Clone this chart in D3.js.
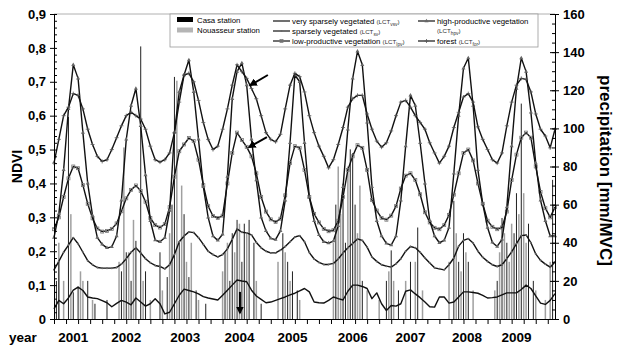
<!DOCTYPE html>
<html>
<head>
<meta charset="utf-8">
<script src="https://cdn.jsdelivr.net/npm/d3@7"></script>
<style>
  body { margin: 0; background: #fff; }
  svg { font-family: Arial, "Liberation Sans", sans-serif; }
</style>
</head>
<body>
<div id="chart"></div>
<script>
// 16-day MVC composite index (every second composite is plotted)
const periods = [0,2,4,6,8,10,12,14,16,18,20,22,24,26,28,30,32,34,36,38,40,42,44,46,48,50,52,54,56,58,60,62,64,66,68,70,72,74,76,78,80,82,84,86,88,90,92,94,96,98,100,102,104,106,108,110,112,114,116,118,120,122,124,126,128,130,132,134,136,138,140,142,144,146,148,150,152,154,156,158,160,162,164,166,168,170,172,174,176,178,180,182,184,186,188,190,192,194,196,198,200,202,204,206,208];

// NDVI per land cover type
const hpv = [0.24,0.31,0.44,0.62,0.75,0.71,0.55,0.40,0.305,0.24,
  0.22,0.21,0.213,0.245,0.35,0.53,0.63,0.68,0.57,0.425,
  0.29,0.233,0.228,0.24,0.32,0.55,0.67,0.72,0.764,0.67,
  0.53,0.39,0.30,0.245,0.232,0.25,0.42,0.65,0.73,0.755,
  0.69,0.53,0.41,0.30,0.26,0.238,0.234,0.26,0.35,0.52,
  0.72,0.70,0.52,0.36,0.29,0.248,0.228,0.224,0.23,0.275,
  0.39,0.56,0.71,0.79,0.75,0.58,0.39,0.29,0.245,0.223,
  0.218,0.245,0.35,0.51,0.66,0.63,0.52,0.40,0.29,0.245,
  0.225,0.232,0.27,0.43,0.60,0.74,0.77,0.63,0.44,0.34,
  0.27,0.226,0.214,0.235,0.33,0.51,0.68,0.77,0.73,0.61,
  0.46,0.35,0.29,0.245,0.245];
const forest = [0.46,0.53,0.60,0.625,0.665,0.66,0.62,0.56,0.515,0.48,
  0.465,0.47,0.50,0.535,0.57,0.60,0.61,0.60,0.59,0.56,
  0.51,0.47,0.463,0.47,0.49,0.55,0.64,0.72,0.725,0.70,
  0.645,0.58,0.53,0.50,0.51,0.56,0.62,0.69,0.75,0.73,
  0.71,0.68,0.65,0.60,0.55,0.53,0.523,0.545,0.62,0.69,
  0.725,0.715,0.67,0.60,0.55,0.51,0.48,0.446,0.47,0.515,
  0.565,0.625,0.65,0.66,0.66,0.605,0.56,0.525,0.507,0.52,
  0.555,0.60,0.64,0.645,0.625,0.60,0.58,0.56,0.52,0.49,
  0.46,0.48,0.51,0.565,0.61,0.655,0.665,0.64,0.567,0.53,
  0.50,0.47,0.46,0.49,0.57,0.64,0.69,0.71,0.707,0.67,
  0.605,0.56,0.54,0.505,0.56];
const lpv = [0.265,0.30,0.36,0.415,0.45,0.445,0.395,0.34,0.297,0.267,
  0.258,0.26,0.266,0.282,0.318,0.356,0.381,0.394,0.378,0.346,
  0.298,0.277,0.27,0.28,0.33,0.42,0.495,0.515,0.534,0.525,
  0.47,0.395,0.333,0.304,0.298,0.305,0.40,0.49,0.55,0.528,
  0.508,0.48,0.43,0.36,0.317,0.294,0.286,0.296,0.365,0.46,
  0.51,0.505,0.44,0.36,0.31,0.285,0.266,0.259,0.262,0.29,
  0.36,0.44,0.48,0.513,0.505,0.44,0.351,0.32,0.298,0.293,
  0.305,0.333,0.385,0.423,0.43,0.41,0.368,0.315,0.285,0.269,
  0.265,0.277,0.307,0.367,0.43,0.49,0.50,0.468,0.40,0.34,
  0.29,0.272,0.265,0.27,0.317,0.41,0.485,0.535,0.55,0.535,
  0.45,0.375,0.327,0.30,0.33];
const sv = [0.145,0.17,0.197,0.218,0.24,0.222,0.197,0.172,0.16,0.152,
  0.15,0.15,0.15,0.152,0.162,0.178,0.197,0.21,0.195,0.178,
  0.166,0.158,0.155,0.148,0.16,0.19,0.228,0.245,0.257,0.255,
  0.24,0.22,0.20,0.19,0.183,0.19,0.207,0.235,0.266,0.256,
  0.254,0.248,0.226,0.21,0.20,0.195,0.195,0.203,0.214,0.228,
  0.242,0.246,0.228,0.196,0.177,0.167,0.161,0.161,0.164,0.177,
  0.195,0.21,0.223,0.236,0.232,0.212,0.183,0.17,0.16,0.156,
  0.153,0.163,0.178,0.20,0.214,0.21,0.197,0.18,0.165,0.151,
  0.148,0.145,0.16,0.18,0.215,0.232,0.237,0.224,0.20,0.182,
  0.17,0.16,0.155,0.16,0.178,0.198,0.222,0.246,0.248,0.225,
  0.192,0.173,0.162,0.153,0.168];
const vsv = [0.03,0.055,0.045,0.062,0.085,0.094,0.084,0.065,0.062,0.06,
  0.054,0.048,0.036,0.046,0.055,0.05,0.042,0.062,0.05,0.038,
  0.045,0.06,0.045,0.015,0.02,0.045,0.07,0.088,0.084,0.08,
  0.074,0.066,0.062,0.059,0.056,0.07,0.085,0.10,0.115,0.112,
  0.11,0.085,0.068,0.058,0.048,0.05,0.055,0.06,0.065,0.071,
  0.076,0.083,0.09,0.08,0.05,0.048,0.047,0.055,0.065,0.06,
  0.056,0.082,0.10,0.10,0.096,0.09,0.06,0.077,0.045,0.025,
  0.04,0.038,0.045,0.082,0.086,0.074,0.063,0.05,0.036,0.035,
  0.065,0.065,0.047,0.05,0.065,0.08,0.08,0.078,0.076,0.07,
  0.062,0.063,0.065,0.071,0.077,0.077,0.077,0.087,0.10,0.09,
  0.068,0.047,0.043,0.055,0.075];

// precipitation per MVC period [mm]
const casaPeriod = [1,2,6,8,10,14,17,22,28,30,32,34,36,38,44,47,49,50,52,54,56,59,63,71,73,74,76,78,79,81,83,86,95,97,99,101,117,120,121,123,124,125,128,138,140,143,148,151,166,168,170,172,184,186,188,191,192,194,197,199,207];
const casaPrecip = [20,30,106,14,17,20,8,10,25,35,20,41,143,25,35,22,60,127,40,55,22,15,8,35,20,45,52,30,50,52,40,8,45,30,25,15,60,71,40,89,87,60,20,20,36,15,30,48,62,30,45,30,20,53,40,45,66,113,50,20,73];
const nouPeriod = [2,4,7,11,12,16,27,29,31,33,37,40,45,48,51,53,55,57,60,70,72,75,77,80,84,93,96,98,102,116,118,119,122,126,127,130,135,139,141,146,150,153,164,167,169,171,174,183,185,187,189,190,193,195,196,200,204,206];
const nouPrecip = [40,20,55,25,20,10,30,90,35,52,20,10,15,45,125,70,30,40,10,25,40,35,50,45,20,30,35,20,10,40,80,55,80,45,70,15,10,25,20,20,30,15,30,45,25,35,15,15,35,45,30,50,55,66,40,15,10,30];

// axis labels
const ndviTicks = [0,0.1,0.2,0.3,0.4,0.5,0.6,0.7,0.8,0.9];
const precipTicks = [0,20,40,60,80,100,120,140,160];
const years = ['2001','2002','2003','2004','2005','2006','2007','2008','2009'];
const yearPos = [8,30,54.5,77,99,124,148,171.5,192];

const width = 617, height = 347;
const svg = d3.select('#chart').append('svg')
  .attr('width', width).attr('height', height);

const x = d3.scaleLinear().domain([0, 208]).range([54, 555]);
const yL = d3.scaleLinear().domain([0, 0.9]).range([319, 14]);
const yR = d3.scaleLinear().domain([0, 160]).range([319, 14]);

// top frame line
svg.append('line')
  .attr('x1', x(0)).attr('x2', x(208))
  .attr('y1', yL(0.9)).attr('y2', yL(0.9))
  .attr('stroke', '#b0b0b0').attr('stroke-width', 1);

// precipitation bars
svg.append('g').selectAll('rect')
  .data(d3.zip(nouPeriod, nouPrecip))
  .join('rect')
  .attr('x', d => x(d[0]) - 0.75)
  .attr('width', 1.5)
  .attr('y', d => yR(d[1]))
  .attr('height', d => yR(0) - yR(d[1]))
  .attr('fill', '#a0a0a0');

svg.append('g').selectAll('rect')
  .data(d3.zip(casaPeriod, casaPrecip))
  .join('rect')
  .attr('x', d => x(d[0]) - 0.5)
  .attr('width', 1)
  .attr('y', d => yR(d[1]))
  .attr('height', d => yR(0) - yR(d[1]))
  .attr('fill', '#222');

// NDVI lines
const series = [
  { key: 'vsv', values: vsv, marker: 'none' },
  { key: 'sv', values: sv, marker: 'dot' },
  { key: 'lpv', values: lpv, marker: 'square' },
  { key: 'hpv', values: hpv, marker: 'triangle' },
  { key: 'for', values: forest, marker: 'plus' }
];

const line = d3.line()
  .x((d, i) => x(periods[i]))
  .y(d => yL(d));

function drawMarker(g, type, px, py) {
  if (type === 'square') {
    g.append('rect').attr('x', px - 1.5).attr('y', py - 1.5)
      .attr('width', 3).attr('height', 3)
      .attr('fill', 'none').attr('stroke', '#777').attr('stroke-width', 0.8);
  } else if (type === 'triangle') {
    g.append('path')
      .attr('d', d3.symbol(d3.symbolTriangle, 7)())
      .attr('transform', `translate(${px},${py})`)
      .attr('fill', '#666');
  } else if (type === 'plus') {
    g.append('path')
      .attr('d', `M${px - 2},${py}H${px + 2}M${px},${py - 2}V${py + 2}`)
      .attr('stroke', '#555').attr('stroke-width', 0.8);
  } else if (type === 'dot') {
    g.append('circle').attr('cx', px).attr('cy', py).attr('r', 1)
      .attr('fill', '#666');
  }
}

series.forEach(s => {
  const g = svg.append('g');
  g.append('path')
    .datum(s.values)
    .attr('fill', 'none')
    .attr('stroke', '#111')
    .attr('stroke-width', 1.4)
    .attr('stroke-linejoin', 'round')
    .attr('d', line);
  s.values.forEach((v, i) => drawMarker(g, s.marker, x(periods[i]), yL(v)));
});

// arrows
const arrows = [
  { from: [88.8, 0.72], to: [81.5, 0.69] },
  { from: [88.4, 0.537], to: [81, 0.507] },
  { from: [77.2, 0.08], to: [77.2, 0.018] }
];
const defs = svg.append('defs');
defs.append('marker')
  .attr('id', 'head').attr('viewBox', '0 0 10 10')
  .attr('refX', 8).attr('refY', 5)
  .attr('markerWidth', 4).attr('markerHeight', 4)
  .attr('orient', 'auto')
  .append('path').attr('d', 'M0,0L10,5L0,10z').attr('fill', '#000');
svg.append('g').selectAll('line')
  .data(arrows)
  .join('line')
  .attr('x1', d => x(d.from[0])).attr('y1', d => yL(d.from[1]))
  .attr('x2', d => x(d.to[0])).attr('y2', d => yL(d.to[1]))
  .attr('stroke', '#000').attr('stroke-width', 2)
  .attr('marker-end', 'url(#head)');

// axes
const fmtComma = d => d === 0 ? '0' : d3.format('.1f')(d).replace('.', ',');
const minorL = d3.range(0, 0.901, 0.02);
const minorR = d3.range(0, 160.1, 5);

const axL = svg.append('g').attr('transform', `translate(${x(0)},0)`);
axL.call(d3.axisLeft(yL).tickValues(ndviTicks).tickFormat(fmtComma).tickSize(4).tickPadding(4));
axL.append('g').call(d3.axisRight(yL).tickValues(minorL).tickFormat('').tickSize(3));
axL.selectAll('.domain').attr('stroke', '#000');
axL.selectAll('text').attr('font-size', 13).attr('font-weight', 'bold').attr('fill', '#000')
  .attr('font-family', 'Arial, "Liberation Sans", sans-serif');

const axR = svg.append('g').attr('transform', `translate(${x(208)},0)`);
axR.call(d3.axisRight(yR).tickValues(precipTicks).tickSize(4).tickPadding(4));
axR.append('g').call(d3.axisLeft(yR).tickValues(minorR).tickFormat('').tickSize(3));
axR.append('g').call(d3.axisLeft(yR).tickValues(precipTicks).tickFormat('').tickSize(5));
axR.selectAll('text').attr('font-size', 13).attr('font-weight', 'bold').attr('fill', '#000')
  .attr('font-family', 'Arial, "Liberation Sans", sans-serif');

const axB = svg.append('g').attr('transform', `translate(0,${yL(0)})`);
axB.call(d3.axisBottom(x).tickValues(d3.range(0, 206, 5)).tickFormat('').tickSize(5).tickSizeOuter(0));

// year labels
svg.append('g').selectAll('text')
  .data(years)
  .join('text')
  .attr('x', (d, i) => x(yearPos[i]))
  .attr('y', 342)
  .attr('text-anchor', 'middle')
  .attr('font-size', 13.5).attr('font-weight', 'bold')
  .text(d => d);
svg.append('text').attr('x', 9).attr('y', 342)
  .attr('font-size', 13.5).attr('font-weight', 'bold').text('year');

// axis titles
svg.append('text')
  .attr('transform', `translate(22,${(yL(0) + yL(0.9)) / 2}) rotate(-90)`)
  .attr('text-anchor', 'middle')
  .attr('font-size', 14).attr('font-weight', 'bold').text('NDVI');
svg.append('text')
  .attr('transform', `translate(600,${(yR(0) + yR(160)) / 2 + 4}) rotate(90)`)
  .attr('text-anchor', 'middle')
  .attr('font-size', 17).attr('font-weight', 'bold').text('precipitation [mm/MVC]');

// legend
const lg = svg.append('g');
lg.append('rect').attr('x', 170).attr('y', 14).attr('width', 368).attr('height', 33)
  .attr('fill', '#fff').attr('stroke', '#999').attr('stroke-width', 0.8);

lg.append('rect').attr('x', 177).attr('y', 17).attr('width', 16).attr('height', 5).attr('fill', '#000');
lg.append('rect').attr('x', 177).attr('y', 27.5).attr('width', 16).attr('height', 5).attr('fill', '#b5b5b5');
lg.append('text').attr('x', 197).attr('y', 22.5).attr('font-size', 7.8).text('Casa station');
lg.append('text').attr('x', 197).attr('y', 33).attr('font-size', 7.8).text('Nouasseur station');

const legendItems = [
  { name: 'very sparsely vegetated ', sub: 'vsv', marker: 'none', lx: 273, ly: 21 },
  { name: 'sparsely vegetated ', sub: 'sv', marker: 'dot', lx: 273, ly: 31 },
  { name: 'low-productive vegetation ', sub: 'lpv', marker: 'square', lx: 273, ly: 41 },
  { name: 'high-productive vegetation', sub: 'hpv', marker: 'triangle', lx: 418, ly: 21 },
  { name: 'forest ', sub: 'for', marker: 'plus', lx: 418, ly: 41 }
];
legendItems.forEach(it => {
  lg.append('line').attr('x1', it.lx).attr('x2', it.lx + 17)
    .attr('y1', it.ly).attr('y2', it.ly).attr('stroke', '#111').attr('stroke-width', 1.2);
  drawMarker(lg, it.marker, it.lx + 8.5, it.ly);
  const t = lg.append('text').attr('x', it.lx + 19).attr('y', it.ly + 2.7).attr('font-size', 7.8);
  t.append('tspan').text(it.name);
  const sub = it.marker === 'triangle'
    ? lg.append('text').attr('x', it.lx + 19).attr('y', it.ly + 12).attr('font-size', 6.2).attr('fill', '#333')
    : t.append('tspan').attr('font-size', 6.2).attr('fill', '#333');
  sub.append('tspan').text('(LCT');
  sub.append('tspan').attr('font-size', 4.8).attr('dy', 2).text(it.sub);
  sub.append('tspan').attr('dy', -2).text(')');
});
</script>
</body>
</html>
